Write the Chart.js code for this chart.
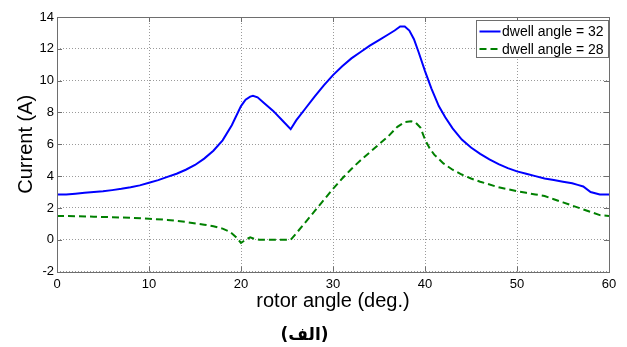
<!DOCTYPE html>
<html>
<head>
<meta charset="utf-8">
<script src="https://cdn.jsdelivr.net/npm/chart.js@4/dist/chart.umd.min.js"></script>
<style>
  html, body { margin: 0; padding: 0; background: #fff; }
  #wrap { width: 627px; height: 347px; position: relative; }
</style>
</head>
<body>
<div id="wrap"><canvas id="c" width="627" height="347"></canvas></div>
<script>
// Phase current versus rotor angle for two dwell angles
const seriesLabels = ['dwell angle = 32', 'dwell angle = 28'];

const angle32 = [0,1,2,3,4,5,6,7,8,9,10,11,12,13,14,15,16,17,18,19,20,20.5,21,21.3,21.8,22.5,23.5,24.5,25.4,26,27,28,29,30,31,32,33,34,35,36,36.7,37.3,37.8,38.3,38.8,39.3,40,40.7,41.5,42.2,43,44,45,46,47,48,49,50,51,52,53,54,55,56,56.6,57.2,58,59,60];
const current32 = [2.85,2.85,2.9,2.95,3.0,3.05,3.12,3.2,3.3,3.42,3.58,3.75,3.95,4.15,4.4,4.7,5.1,5.6,6.25,7.2,8.4,8.8,9.0,9.05,8.95,8.6,8.1,7.5,6.95,7.5,8.25,9.0,9.7,10.35,10.9,11.4,11.8,12.2,12.55,12.9,13.15,13.4,13.4,13.15,12.6,11.8,10.6,9.5,8.4,7.7,7.0,6.3,5.8,5.4,5.05,4.75,4.5,4.3,4.15,4.0,3.85,3.75,3.65,3.55,3.45,3.35,3.0,2.85,2.85];

const angle28 = [0,2,4,6,8,10,12,14,16,17,18,18.8,19.5,20,20.5,21,21.5,22,23,24,25.4,26,27,28,29,30,31,32,33,34,35,36,37,37.8,38.5,39,39.5,40,40.5,41,42,43,44,45,46,48,50,51,52,53,54,55,56,57,58,59,60];
const current28 = [1.5,1.48,1.45,1.42,1.38,1.32,1.25,1.12,0.95,0.85,0.7,0.5,0.15,-0.2,0.0,0.15,0.05,0.0,0.0,0.0,0.0,0.4,1.1,1.8,2.5,3.2,3.85,4.45,5.0,5.5,6.0,6.5,7.1,7.4,7.45,7.35,7.05,6.3,5.75,5.35,4.8,4.4,4.1,3.85,3.65,3.3,3.05,2.95,2.85,2.75,2.55,2.35,2.15,1.95,1.75,1.55,1.5];

const xTicks = [0,10,20,30,40,50,60];
const yTicks = [-2,0,2,4,6,8,10,12,14];

const toPoints = (xs, ys) => xs.map((x, i) => ({ x: x, y: ys[i] }));

const FONT = '"Liberation Sans", Arial, sans-serif';

// Axes box with inward tick marks
const frame = {
  id: 'frame',
  afterDatasetsDraw(chart) {
    const { ctx, chartArea: a, scales } = chart;
    ctx.save();
    ctx.strokeStyle = '#6e6e6e';
    ctx.lineWidth = 1;
    ctx.strokeRect(Math.round(a.left) + 0.5, Math.round(a.top) + 0.5,
                   Math.round(a.right - a.left), Math.round(a.bottom - a.top));
    ctx.beginPath();
    xTicks.forEach(v => {
      const px = Math.round(scales.x.getPixelForValue(v)) + 0.5;
      ctx.moveTo(px, a.bottom); ctx.lineTo(px, a.bottom - 5);
      ctx.moveTo(px, a.top); ctx.lineTo(px, a.top + 5);
    });
    yTicks.forEach(v => {
      const py = Math.round(scales.y.getPixelForValue(v)) + 0.5;
      ctx.moveTo(a.left, py); ctx.lineTo(a.left + 5, py);
      ctx.moveTo(a.right, py); ctx.lineTo(a.right - 5, py);
    });
    ctx.stroke();
    ctx.restore();
  }
};

// Legend box in the upper right corner of the plot
const insetLegend = {
  id: 'insetLegend',
  afterDraw(chart) {
    const { ctx, chartArea: a } = chart;
    const w = 132, h = 37;
    const x0 = Math.round(a.right - w - 1) + 0.5, y0 = Math.round(a.top + 3) + 0.5;
    ctx.save();
    ctx.fillStyle = '#fff';
    ctx.fillRect(x0, y0, w, h);
    ctx.strokeStyle = '#6e6e6e';
    ctx.lineWidth = 1;
    ctx.strokeRect(x0, y0, w, h);
    ctx.font = '14px ' + FONT;
    ctx.textBaseline = 'middle';
    chart.data.datasets.forEach((ds, i) => {
      const yy = y0 + 11 + i * 17.5;
      ctx.strokeStyle = ds.borderColor;
      ctx.lineWidth = 2;
      ctx.setLineDash(ds.borderDash || []);
      ctx.beginPath();
      ctx.moveTo(x0 + 3, yy); ctx.lineTo(x0 + 24, yy);
      ctx.stroke();
      ctx.setLineDash([]);
      ctx.fillStyle = '#000';
      ctx.fillText(ds.label, x0 + 25.5, yy + 1);
    });
    ctx.restore();
  }
};

new Chart(document.getElementById('c'), {
  type: 'line',
  data: {
    datasets: [
      {
        label: seriesLabels[0],
        data: toPoints(angle32, current32),
        borderColor: '#0000ff',
        borderWidth: 2,
        pointRadius: 0,
        tension: 0,
        fill: false
      },
      {
        label: seriesLabels[1],
        data: toPoints(angle28, current28),
        borderColor: '#008000',
        borderWidth: 2,
        borderDash: [7, 4],
        pointRadius: 0,
        tension: 0,
        fill: false
      }
    ]
  },
  options: {
    responsive: false,
    animation: false,
    layout: { padding: { top: 17, right: 18, left: 0, bottom: 0 } },
    plugins: {
      legend: { display: false },
      tooltip: { enabled: false },
      title: {
        display: true,
        position: 'bottom',
        text: '(الف)',
        color: '#000',
        font: { family: '"DejaVu Sans", sans-serif', size: 17, weight: 'bold' },
        padding: { top: 6, bottom: 1 }
      }
    },
    scales: {
      x: {
        type: 'linear',
        min: 0, max: 60,
        afterFit(s) { s.height = 48; },
        afterBuildTicks(s) { s.ticks = xTicks.map(v => ({ value: v })); },
        grid: { color: '#9a9a9a', lineWidth: 1, drawTicks: false },
        border: { display: false, dash: [1, 2] },
        ticks: { color: '#000', padding: 5, font: { family: FONT, size: 13 } },
        title: {
          display: true, text: 'rotor angle (deg.)', color: '#000',
          font: { family: FONT, size: 20 },
          padding: { top: 0, bottom: 6 }
        }
      },
      y: {
        type: 'linear',
        min: -2, max: 14,
        afterFit(s) { s.width = 57; },
        afterBuildTicks(s) { s.ticks = yTicks.map(v => ({ value: v })); },
        grid: { color: '#9a9a9a', lineWidth: 1, drawTicks: false },
        border: { display: false, dash: [1, 2] },
        ticks: { color: '#000', padding: 3, font: { family: FONT, size: 13 } },
        title: {
          display: true, text: 'Current (A)', color: '#000',
          font: { family: FONT, size: 20 },
          padding: { top: 14, bottom: 0 }
        }
      }
    }
  },
  plugins: [frame, insetLegend]
});
</script>
</body>
</html>
